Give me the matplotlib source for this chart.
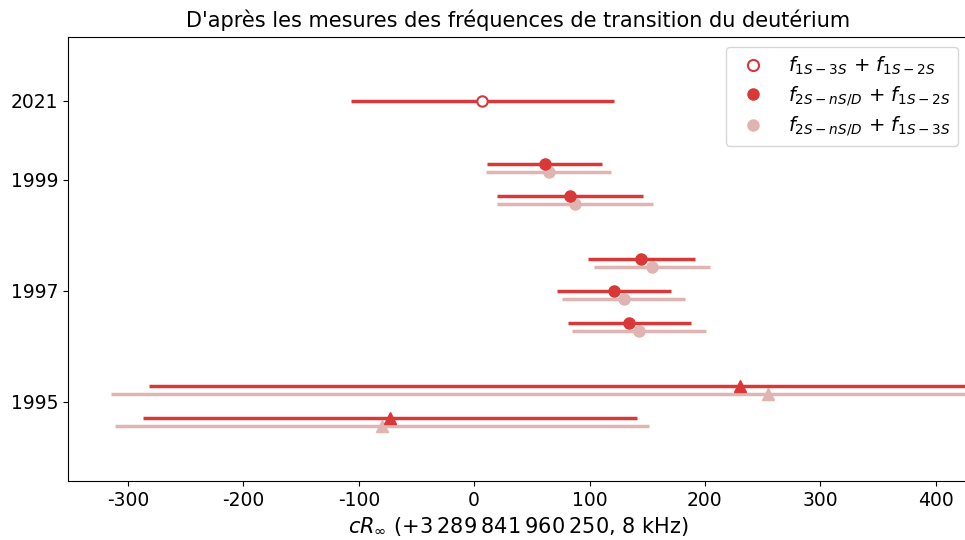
import matplotlib
matplotlib.use("Agg")
import matplotlib.pyplot as plt
from matplotlib.lines import Line2D

plt.rcParams['font.family'] = ['DejaVu Sans']
plt.rcParams['axes.unicode_minus'] = False

RED = '#d83838'
PINK = '#e0b5b1'

# positions des lignes (de bas en haut) et étiquettes de l'axe y
tick_pos = [0.5, 4, 7.5, 10]
tick_labels = ['1995', '1997', '1999', '2021']
xticks = [-300, -200, -100, 0, 100, 200, 300, 400]

# f1S-3S + f1S-2S (2021)
row_a = [10]
val_a = [7]
err_a = [114]

# f2S-nS/D + f1S-2S
rows_b = [8, 7, 5, 4, 3, 1, 0]
val_b = [61, 83, 144.7, 121.5, 134.5, 230, -73]
err_b = [50, 63, 46.3, 49.5, 53.5, 512, 214]

# f2S-nS/D + f1S-3S
val_c = [64.5, 87.5, 154, 129.5, 143, 255, -80]
err_c = [54, 67.5, 50, 53.5, 58, 570, 231.5]

markers = ['o', 'o', 'o', 'o', 'o', '^', '^']

fig = plt.figure(figsize=(9.65, 5.4), dpi=100)
ax = fig.add_axes([0.0705, 0.109, 0.9326, 0.8222])

for r, vb, eb, vc, ec, m in zip(rows_b, val_b, err_b, val_c, err_c, markers):
    ax.errorbar(vc, r - 0.25, xerr=ec, fmt=m, color=PINK, ms=8, elinewidth=2.5,
                capsize=0, zorder=2)
    ax.errorbar(vb, r, xerr=eb, fmt=m, color=RED, ms=8, elinewidth=2.5,
                capsize=0, zorder=3)

ax.errorbar(val_a, row_a, xerr=err_a, fmt='o', color=RED, mfc='white', mec=RED,
            mew=1.5, ms=7.5, elinewidth=2.5, capsize=0, zorder=3)

ax.set_xlim(-352, 428)
ax.set_ylim(-2, 12)
ax.set_yticks(tick_pos)
ax.set_yticklabels(tick_labels, fontsize=13.5)
ax.set_xticks(xticks)
ax.set_xticklabels([str(t) for t in xticks], fontsize=13.5)
ax.set_xlabel('$cR_\\infty$ (+3\u2009289\u2009841\u2009960\u2009250, 8 kHz)', fontsize=15)
ax.set_title("D'après les mesures des fréquences de transition du deutérium",
             fontsize=15, pad=7)

handles = [
    Line2D([], [], ls='none', marker='o', ms=8, mfc='white', mec=RED, mew=1.5),
    Line2D([], [], ls='none', marker='o', ms=8, color=RED),
    Line2D([], [], ls='none', marker='o', ms=8, color=PINK),
]
labels = [
    '$f_{1S-3S}$ + $f_{1S-2S}$',
    '$f_{2S-nS/D}$ + $f_{1S-2S}$',
    '$f_{2S-nS/D}$ + $f_{1S-3S}$',
]
ax.legend(handles, labels, loc='upper right', fontsize=14, labelspacing=0.35)

fig.savefig('out.png', dpi=100)
